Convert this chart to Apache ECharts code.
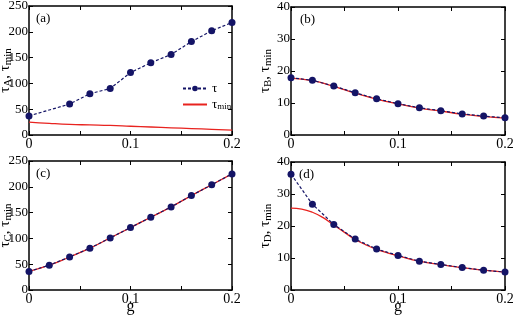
<!DOCTYPE html>
<html><head><meta charset="utf-8">
<script src="https://cdn.jsdelivr.net/npm/echarts@6/dist/echarts.min.js"></script>
<style>html,body{margin:0;padding:0;background:#fff}#c{width:513px;height:317px}</style>
</head><body><div id="c"></div>
<script>
// ---- data ----
const gA = [0, 0.04, 0.06, 0.08, 0.1, 0.12, 0.14, 0.16, 0.18, 0.2];
const tauA = [37, 60, 80, 90, 121, 140, 156, 181, 202, 218];
const gLine = [0, 0.02, 0.04, 0.06, 0.08, 0.1, 0.12, 0.14, 0.16, 0.18, 0.2];
const tauMinA = [25, 22.5, 20.5, 19.5, 18.5, 17, 15.5, 14, 12.5, 11, 9.5];
const gB = [0, 0.02, 0.04, 0.06, 0.08, 0.1, 0.12, 0.14, 0.16, 0.18, 0.2];
const tauB = [17.9, 17.1, 15.3, 13.2, 11.3, 9.8, 8.5, 7.6, 6.6, 5.9, 5.4];
const tauMinB = [17.8, 17.0, 15.2, 13.1, 11.2, 9.7, 8.4, 7.5, 6.5, 5.8, 5.3];
const gC = [0, 0.02, 0.04, 0.06, 0.08, 0.1, 0.12, 0.14, 0.16, 0.18, 0.2];
const tauC = [36, 48, 64, 81, 101, 121, 141, 161, 183, 204, 225];
const tauMinC = [36, 48, 64, 81, 101, 121, 141, 161, 183, 204, 225];
const gD = [0, 0.02, 0.04, 0.06, 0.08, 0.1, 0.12, 0.14, 0.16, 0.18, 0.2];
const tauD = [36.2, 26.8, 20.5, 15.9, 12.8, 10.8, 9.0, 8.0, 7.0, 6.2, 5.6];
const gMinD = [0, 0.01, 0.02, 0.03, 0.04, 0.05, 0.06, 0.07, 0.08, 0.09, 0.1, 0.12, 0.14, 0.16, 0.18, 0.2];
const tauMinD = [25.6, 25.3, 24.3, 22.6, 20.3, 18.0, 15.8, 14.1, 12.7, 11.6, 10.7, 9.0, 7.9, 7.0, 6.2, 5.6];
const xTicks = { min: 0, max: 0.2, interval: 0.1 };
const yTicksAC = { min: 0, max: 250, interval: 50 };
const yTicksBD = { min: 0, max: 40, interval: 10 };
const yNames = ['A', 'B', 'C', 'D'];
const panelLabels = ['(a)', '(b)', '(c)', '(d)'];

// ---- chart ----
const FONT = 'Liberation Serif';
const NAVY = '#141466';
const RED = '#e8231f';
const grids = [
  { left: 29, top: 6, width: 203, height: 129 },
  { left: 291, top: 7, width: 214, height: 128 },
  { left: 29, top: 161, width: 203, height: 129 },
  { left: 291, top: 162, width: 214, height: 128 }
].map(g => Object.assign(g, { containLabel: false, outerBoundsMode: 'none' }));
const pairs = (xs, ys) => xs.map((x, i) => [x, ys[i]]);
const xAxis = [], yAxis = [];
grids.forEach((g, i) => {
  const yt = (i % 2 === 0) ? yTicksAC : yTicksBD;
  const bottomRow = i >= 2;
  const common = {
    gridIndex: i,
    axisLine: { show: true, onZero: false, lineStyle: { color: '#000', width: 1.5 } },
    axisTick: { show: true, inside: true, length: 4, lineStyle: { color: '#000', width: 1 } },
    splitLine: { show: false }
  };
  xAxis.push(Object.assign({}, common, {
    type: 'value', position: 'bottom', min: xTicks.min, max: xTicks.max, interval: xTicks.interval,
    minorTick: { show: true, splitNumber: 2, length: 4, lineStyle: { color: '#000' } },
    axisLabel: { show: true, color: '#000', fontFamily: FONT, fontSize: 14, margin: 2,
      formatter: v => (v === 0 ? '0' : String(Math.round(v * 10) / 10)) },
    name: bottomRow ? 'g' : '', nameLocation: 'middle', nameGap: 9, nameMoveOverlap: false,
    nameTextStyle: { color: '#000', fontFamily: FONT, fontSize: 16, verticalAlign: 'top' }
  }));
  xAxis.push(Object.assign({}, common, {
    type: 'value', position: 'top', min: xTicks.min, max: xTicks.max, interval: xTicks.interval,
    minorTick: { show: true, splitNumber: 2, length: 4, lineStyle: { color: '#000' } },
    axisLabel: { show: false }
  }));
  yAxis.push(Object.assign({}, common, {
    type: 'value', position: 'left', min: yt.min, max: yt.max, interval: yt.interval,
    axisLabel: { show: true, color: '#000', fontFamily: FONT, fontSize: 13, margin: 1 },
    name: '{t|τ}{s|' + yNames[i] + '}{t|, τ}{s|min}', nameLocation: 'middle',
    nameGap: (i % 2 === 0) ? 15 : 17, nameRotate: 90, nameMoveOverlap: false,
    nameTextStyle: { color: '#000', fontFamily: FONT, fontSize: 15,
      rich: {
        t: { fontFamily: FONT, fontSize: 15, color: '#000', lineHeight: 18, verticalAlign: 'middle' },
        s: { fontFamily: FONT, fontSize: 11, color: '#000', lineHeight: 18, verticalAlign: 'bottom', padding: [6, 0, 0, 0] }
      } }
  }));
  yAxis.push(Object.assign({}, common, {
    type: 'value', position: 'right', min: yt.min, max: yt.max, interval: yt.interval,
    axisLabel: { show: false }
  }));
});

const lineRed = (i, data, name) => ({
  type: 'line', name: name, xAxisIndex: 2 * i, yAxisIndex: 2 * i, data: data,
  showSymbol: false, symbol: 'none', smooth: true, lineStyle: { color: RED, width: 1.3 }, itemStyle: { color: RED },
  z: 2, animation: false
});
const lineTau = (i, data, name) => ({
  type: 'line', name: name, xAxisIndex: 2 * i, yAxisIndex: 2 * i, data: data,
  symbol: 'circle', symbolSize: 7, smooth: false,
  lineStyle: { color: NAVY, width: 1.2, type: [3, 2] }, itemStyle: { color: NAVY },
  z: 3, animation: false
});

const series = [
  lineRed(0, pairs(gLine, tauMinA), 'tmin'),
  lineTau(0, pairs(gA, tauA), 'tau'),
  lineRed(1, pairs(gB, tauMinB)),
  lineTau(1, pairs(gB, tauB)),
  lineRed(2, pairs(gC, tauMinC)),
  lineTau(2, pairs(gC, tauC)),
  lineRed(3, pairs(gMinD, tauMinD)),
  lineTau(3, pairs(gD, tauD))
];

const labelPos = [[36, 12], [300, 13], [36, 167], [299, 168]];
const graphic = panelLabels.map((t, i) => ({
  type: 'text', left: labelPos[i][0], top: labelPos[i][1],
  style: { text: t, fontFamily: FONT, fontSize: 13, fill: '#000' }
}));

const chart = echarts.init(document.getElementById('c'), null, { renderer: 'canvas' });
chart.setOption({
  animation: false,
  backgroundColor: '#fff',
  grid: grids,
  xAxis: xAxis,
  yAxis: yAxis,
  series: series,
  graphic: graphic,
  legend: {
    data: [{ name: 'tau' }, { name: 'tmin', icon: 'path://M0,0 L24,0 L24,2 L0,2 Z' }],
    orient: 'vertical', left: 177, top: 77,
    itemWidth: 24, itemHeight: 7, itemGap: 3,
    textStyle: { color: '#000', fontFamily: FONT, fontSize: 13,
      rich: { t: { fontFamily: FONT, fontSize: 13 }, s: { fontFamily: FONT, fontSize: 9, verticalAlign: 'bottom', padding: [5, 0, 0, 0] } } },
    formatter: n => n === 'tau' ? '{t|τ}' : '{t|τ}{s|min}'
  }
});
</script></body></html>
